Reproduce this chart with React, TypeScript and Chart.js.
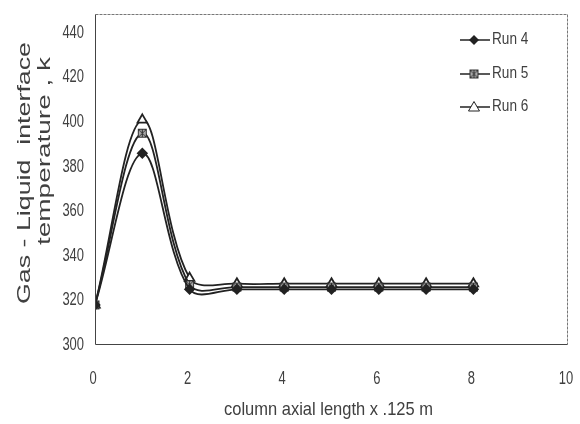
import React, { useEffect, useRef } from 'react';
import { Chart, registerables } from 'chart.js';
Chart.register(...registerables);

const xValues = [0, 1, 2, 3, 4, 5, 6, 7, 8];
const run4 = [318, 386, 325, 325, 325, 325, 325, 325, 325];
const run5 = [318, 395, 327, 326, 326, 326, 326, 326, 326];
const run6 = [318, 401, 330, 327.5, 327.5, 327.5, 327.5, 327.5, 327.5];
const seriesNames = ['Run 4', 'Run 5', 'Run 6'];
const xTickValues = [0, 2, 4, 6, 8, 10];
const yTickValues = [300, 320, 340, 360, 380, 400, 420, 440];
const yTitleLines = ['Gas - Liquid  interface', 'temperature , k'];
const xTitle = 'column axial length x .125 m';

const FONT = '"Liberation Sans", Arial, sans-serif';
const INK = '#222';
const TEXT = '#404040';

function makeStarSquare(): HTMLCanvasElement {
  const c = document.createElement('canvas');
  c.width = 11; c.height = 11;
  const g = c.getContext('2d')!;
  g.fillStyle = '#aaa';
  g.fillRect(1, 1, 9, 9);
  g.strokeStyle = '#333';
  g.lineWidth = 1;
  g.strokeRect(1.5, 1.5, 8, 8);
  g.beginPath();
  g.moveTo(2, 2); g.lineTo(9, 9);
  g.moveTo(9, 2); g.lineTo(2, 9);
  g.moveTo(5.5, 1); g.lineTo(5.5, 10);
  g.stroke();
  return c;
}

function scaledText(ctx: CanvasRenderingContext2D, text: string, x: number, y: number, size: number, hscale: number, align: 'left' | 'center' | 'right', baseline: CanvasTextBaseline) {
  ctx.save();
  ctx.font = `${size}px ${FONT}`;
  ctx.textBaseline = baseline;
  ctx.textAlign = align;
  ctx.translate(x, y);
  ctx.scale(hscale, 1);
  ctx.fillText(text, 0, 0);
  ctx.restore();
}

export default function App() {
  const ref = useRef<HTMLCanvasElement>(null);
  useEffect(() => {
    document.body.style.margin = '0';
    const star = makeStarSquare();
    const toPts = (arr: number[]) => arr.map((y, i) => ({ x: xValues[i], y }));
    const styles: any[] = [
      { pointStyle: 'rectRot', pointRadius: 4.5, pointBackgroundColor: INK, pointBorderColor: INK },
      { pointStyle: star, pointRadius: 5, pointBackgroundColor: '#aaa', pointBorderColor: '#333' },
      { pointStyle: 'triangle', pointRadius: 5.5, pointBackgroundColor: '#fff', pointBorderColor: INK },
    ];
    const data = [run4, run5, run6];

    const decor = {
      id: 'decor',
      afterDraw(chart: any) {
        const { ctx, chartArea: a } = chart;
        const xs = chart.scales.x;
        const ys = chart.scales.y;
        ctx.save();
        const L = Math.round(a.left) + 0.5, R = Math.round(a.right) - 0.5;
        const T = Math.round(a.top) + 0.5, B = Math.round(a.bottom) - 0.5;
        // top & right: light dotted
        ctx.strokeStyle = '#777';
        ctx.lineWidth = 1;
        ctx.setLineDash([3, 1]);
        ctx.beginPath();
        ctx.moveTo(L, T); ctx.lineTo(R, T); ctx.lineTo(R, B);
        ctx.stroke();
        ctx.setLineDash([]);
        // left & bottom: solid
        ctx.strokeStyle = '#444';
        ctx.beginPath();
        ctx.moveTo(L, T); ctx.lineTo(L, B); ctx.lineTo(R, B);
        ctx.stroke();

        // tick labels
        ctx.fillStyle = TEXT;
        yTickValues.forEach((v) => {
          scaledText(ctx, String(v), 84, ys.getPixelForValue(v), 18, 0.72, 'right', 'middle');
        });
        xTickValues.forEach((v) => {
          scaledText(ctx, String(v), xs.getPixelForValue(v) - 2, 384, 18, 0.72, 'center', 'alphabetic');
        });

        // x title
        ctx.save();
        ctx.font = `19px ${FONT}`;
        const w = ctx.measureText(xTitle).width;
        ctx.restore();
        scaledText(ctx, xTitle, 224, 415, 19, 209 / w, 'left', 'alphabetic');

        // y title (rotated, stretched along its length)
        const yt = [
          { text: yTitleLines[0], x: 30, y0: 304, len: 262 },
          { text: yTitleLines[1], x: 50, y0: 245, len: 188 },
        ];
        yt.forEach((t) => {
          ctx.save();
          ctx.font = `18px ${FONT}`;
          const tw = ctx.measureText(t.text).width;
          ctx.translate(t.x, t.y0);
          ctx.rotate(-Math.PI / 2);
          ctx.scale(t.len / tw, 1);
          ctx.textAlign = 'left';
          ctx.textBaseline = 'alphabetic';
          ctx.fillStyle = TEXT;
          ctx.fillText(t.text, 0, 0);
          ctx.restore();
        });

        // legend
        const lx0 = 460, lx1 = 490;
        const ly = [40, 74, 107];
        seriesNames.forEach((name, i) => {
          const y = ly[i];
          ctx.strokeStyle = INK;
          ctx.lineWidth = 1.5;
          ctx.beginPath();
          ctx.moveTo(lx0, y); ctx.lineTo(lx1, y);
          ctx.stroke();
          const mx = 474;
          ctx.lineWidth = 1;
          if (i === 0) {
            ctx.fillStyle = INK;
            ctx.beginPath();
            ctx.moveTo(mx, y - 5); ctx.lineTo(mx + 5, y); ctx.lineTo(mx, y + 5); ctx.lineTo(mx - 5, y);
            ctx.closePath(); ctx.fill();
          } else if (i === 1) {
            ctx.drawImage(star, mx - 5.5, y - 5.5);
          } else {
            ctx.fillStyle = '#fff';
            ctx.strokeStyle = INK;
            ctx.beginPath();
            ctx.moveTo(mx, y - 5.5); ctx.lineTo(mx + 5.5, y + 4); ctx.lineTo(mx - 5.5, y + 4);
            ctx.closePath(); ctx.fill(); ctx.stroke();
          }
          ctx.fillStyle = TEXT;
          scaledText(ctx, name, lx1 + 2, y, 16, 0.85, 'left', 'middle');
        });
        ctx.restore();
      },
    };

    const zeroPad = (s: any) => { s.paddingLeft = 0; s.paddingRight = 0; s.paddingTop = 0; s.paddingBottom = 0; };

    const chart = new Chart(ref.current!, {
      type: 'line',
      data: {
        datasets: data.map((d, i) => ({
          label: seriesNames[i],
          data: toPts(d),
          borderColor: INK,
          borderWidth: 1.8,
          tension: 0.35,
          fill: false,
          ...styles[i],
        })),
      },
      options: {
        animation: false,
        responsive: false,
        layout: { padding: { left: 0, top: 14, right: 12, bottom: 0 } },
        plugins: { legend: { display: false }, tooltip: { enabled: false } },
        scales: {
          x: {
            type: 'linear',
            min: 0,
            max: 10,
            afterBuildTicks: (s: any) => { s.ticks = xTickValues.map((v) => ({ value: v })); },
            afterFit: (s: any) => { s.height = 79; zeroPad(s); },
            grid: { display: false, drawTicks: false },
            border: { display: false },
            ticks: { display: false },
          },
          y: {
            type: 'linear',
            min: 300,
            max: 448.5,
            afterBuildTicks: (s: any) => { s.ticks = yTickValues.map((v) => ({ value: v })); },
            afterFit: (s: any) => { s.width = 95; zeroPad(s); },
            grid: { display: false, drawTicks: false },
            border: { display: false },
            ticks: { display: false },
          },
        },
      },
      plugins: [decor],
    } as any);
    return () => chart.destroy();
  }, []);
  return <canvas ref={ref} width={580} height={424} style={{ display: 'block' }} />;
}
